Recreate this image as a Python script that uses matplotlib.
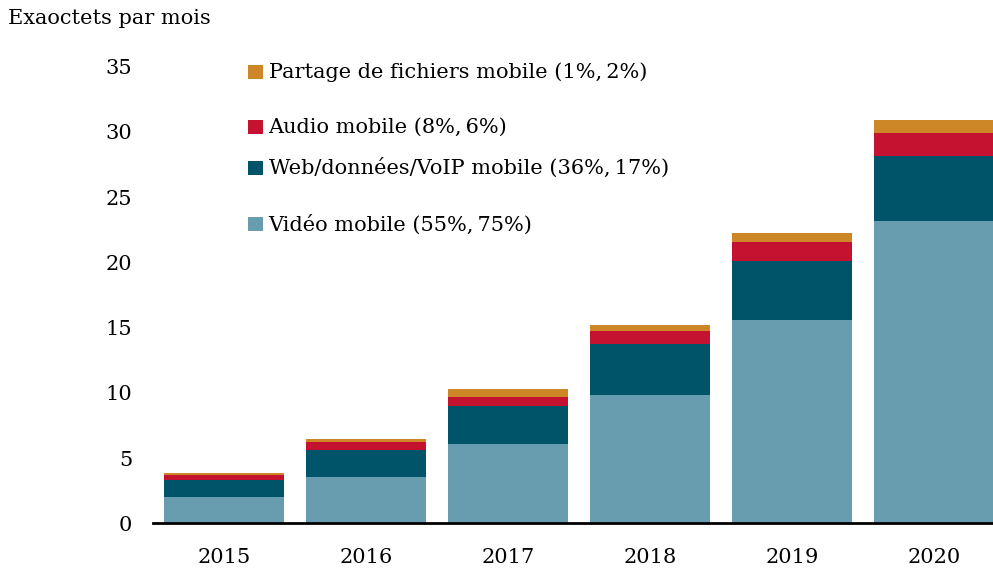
import matplotlib
matplotlib.use("Agg")
import matplotlib.pyplot as plt
from matplotlib.patches import Rectangle
import numpy as np

years = ["2015", "2016", "2017", "2018", "2019", "2020"]
video = [2.04, 3.57, 6.08, 9.83, 15.58, 23.16]
web = [1.30, 2.05, 2.93, 3.91, 4.52, 5.01]
audio = [0.36, 0.63, 0.67, 1.00, 1.46, 1.73]
partage = [0.15, 0.21, 0.61, 0.46, 0.69, 1.00]

series = [
    ("Vidéo mobile (55%,\u200975%)", video, "#689CAF"),
    ("Web/données/VoIP mobile (36%,\u200917%)", web, "#00546A"),
    ("Audio mobile (8%,\u20096%)", audio, "#C41230"),
    ("Partage de fichiers mobile (1%,\u20092%)", partage, "#CD8726"),
]
# legend rows sit at uneven heights in the original
legend_y = [0.6055, 0.7047, 0.7768, 0.8735]

plt.rcParams["font.family"] = ["DejaVu Serif"]
plt.rcParams["font.size"] = 15

fig = plt.figure(figsize=(9.93, 5.69), dpi=100)
ax = fig.add_axes([0.154, 0.0803, 0.846, 0.8025])

x = np.arange(len(years))
bottom = np.zeros(len(years))
for label, vals, color in series:
    ax.bar(x, vals, width=0.845, bottom=bottom, color=color, linewidth=0)
    bottom += np.array(vals)

ax.set_xlim(-0.5, 5.415)
ax.set_ylim(0, 35)
ax.set_yticks(range(0, 36, 5))
ax.set_xticks(x)
ax.set_xticklabels(years)
for side in ("top", "right", "left"):
    ax.spines[side].set_visible(False)
ax.spines["bottom"].set_linewidth(2)
ax.spines["bottom"].set_color("black")
ax.tick_params(axis="both", length=0, labelsize=15)
ax.tick_params(axis="x", pad=18)
ax.tick_params(axis="y", pad=15)

for (label, vals, color), y in zip(series, legend_y):
    fig.patches.append(Rectangle((0.2497, y - 0.0123), 0.0151, 0.0246,
                                 transform=fig.transFigure, color=color,
                                 linewidth=0))
    fig.text(0.2705, y, label, va="center", ha="left", fontsize=15)

fig.text(0.008, 0.968, "Exaoctets par mois", va="center", ha="left", fontsize=15)

fig.savefig("out.png", dpi=100)
